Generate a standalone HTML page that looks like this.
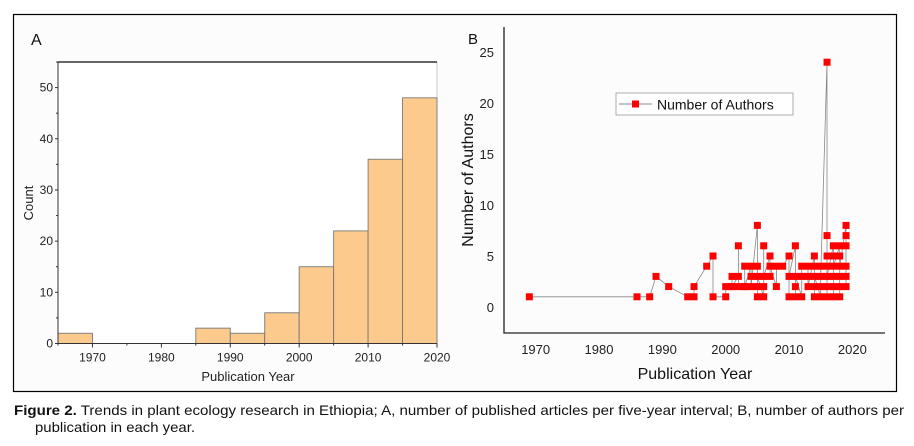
<!DOCTYPE html>
<html><head><meta charset="utf-8">
<style>
html,body{margin:0;padding:0;background:#fff;width:914px;height:446px;overflow:hidden;font-family:"Liberation Sans",sans-serif;}
svg{display:block}
</style></head>
<body>
<svg id="fig" width="914" height="446" xmlns="http://www.w3.org/2000/svg">
  <rect x="13.5" y="14.5" width="883" height="377" fill="#fcfcfc" stroke="#000" stroke-width="1.2"/>
  <g id="panelA"></g>
  <g id="panelB"></g>
  <text x="14" y="415" font-size="14" fill="#111" textLength="890" lengthAdjust="spacingAndGlyphs"><tspan font-weight="bold">Figure 2.</tspan> Trends in plant ecology research in Ethiopia; A, number of published articles per five-year interval; B, number of authors per</text>
  <text x="35" y="432" font-size="14" fill="#111" textLength="160" lengthAdjust="spacingAndGlyphs">publication in each year.</text>
</svg>
<script>
// Panel A data
const binStarts = [1965,1970,1975,1980,1985,1990,1995,2000,2005,2010,2015];
const binCounts = [2,0,0,0,3,2,6,15,22,36,48];
const aXTicks = [1970,1980,1990,2000,2010,2020];
const aYTicks = [0,10,20,30,40,50];

// Panel B data
const bYears = [1969,1986,1988,1989,1991,1994,1995,1995,1997,1998,1998,2000,2000,
2001,2001,2001,2002,2002,2002,2003,2003,2003,2004,2004,2004,
2005,2005,2005,2005,2005,2006,2006,2006,2006,2007,2007,2007,2008,2008,2009,
2010,2010,2010,2011,2011,2011,2011,2012,2012,2012,2013,2013,2013,
2014,2014,2014,2014,2014,2015,2015,2015,2015,
2016,2016,2016,2016,2016,2016,2016,2017,2017,2017,2017,2017,2017,
2018,2018,2018,2018,2018,2018,2019,2019,2019,2019,2019,2019];
const bAuthors = [1,1,1,3,2,1,1,2,4,5,1,1,2,
2,3,2,3,6,2,2,4,2,4,3,2,
8,1,2,4,3,1,6,2,3,5,3,4,2,4,4,
5,1,3,6,2,1,3,1,3,4,4,3,2,
5,1,4,2,3,1,4,2,3,
24,7,1,5,2,4,3,6,1,5,3,2,4,
6,5,1,2,3,4,8,7,6,2,3,4];
const bXTicks = [1970,1980,1990,2000,2010,2020];
const bYTicks = [0,5,10,15,20,25];

const NS="http://www.w3.org/2000/svg";
function mk(tag,attrs,parent,txt){const e=document.createElementNS(NS,tag);for(const k in attrs)e.setAttribute(k,attrs[k]);if(txt!==undefined)e.textContent=txt;parent.appendChild(e);return e;}

// ---- Panel A ----
const A=document.getElementById('panelA');
const axL=58,axR=437,axT=62,axB=343.5;
const ax=v=>axL+(v-1965)/(2020-1965)*(axR-axL);
const ay=v=>axB-v/55*(axB-axT);
let t=mk('text',{x:31,y:45,'font-size':16,fill:'#111'},A,'A');


let r=mk('rect',{x:axL,y:axT,width:axR-axL,height:axB-axT,fill:'#fff',stroke:'#bbb','stroke-width':0.8},A);


binStarts.forEach((s,i)=>{
  if(binCounts[i]<=0)return;
  const b=mk('rect',{x:ax(s),y:ay(binCounts[i]),width:ax(s+5)-ax(s),height:axB-ay(binCounts[i]),fill:'#fdca8e',stroke:'#777','stroke-width':0.9},A);
  
  
});
let l=mk('line',{x1:axL,y1:axT,x2:axR,y2:axT,stroke:'#333','stroke-width':1.6},A);


l=mk('line',{x1:axL,y1:axT,x2:axL,y2:axB,stroke:'#333','stroke-width':1},A);


l=mk('line',{x1:axL,y1:axB,x2:axR,y2:axB,stroke:'#333','stroke-width':1},A);


aYTicks.forEach(v=>{
  mk('line',{x1:axL-3,y1:ay(v),x2:axL,y2:ay(v),stroke:'#333'},A);
  mk('line',{x1:axL-2,y1:ay(v+5),x2:axL,y2:ay(v+5),stroke:'#333'},A);
  const tt=mk('text',{x:axL-5,y:ay(v)+4,'font-size':12,'text-anchor':'end',fill:'#222'},A,String(v));
  
  
});
aXTicks.forEach(v=>{
  mk('line',{x1:ax(v),y1:axB,x2:ax(v),y2:axB+4,stroke:'#333'},A);
  if(v-5>=1965)mk('line',{x1:ax(v-5),y1:axB,x2:ax(v-5),y2:axB+2,stroke:'#333'},A);
  const tt=mk('text',{x:ax(v),y:axB+18,'font-size':12,'text-anchor':'middle',fill:'#222'},A,String(v));
  
  
});
t=mk('text',{x:248,y:381,'font-size':13,'text-anchor':'middle',fill:'#222'},A,'Publication Year');


t=mk('text',{x:0,y:0,'font-size':13,'text-anchor':'middle',fill:'#222',transform:'translate(33,203) rotate(-90)'},A,'Count');



// ---- Panel B ----
const B=document.getElementById('panelB');
const bL=504,bR=885,bT=27,bB=333;
const bx=v=>bL+(v-1965)/(2025.15-1965)*(bR-bL);
const by=v=>307-v*(307-52)/25;
t=mk('text',{x:468,y:44,'font-size':15,fill:'#111'},B,'B');


l=mk('polyline',{points:`${bL},${bT} ${bL},${bB} ${bR},${bB}`,fill:'none',stroke:'#222','stroke-width':1.3},B);


bYTicks.forEach(v=>{
  const tt=mk('text',{x:494,y:by(v)+5,'font-size':13,'text-anchor':'end',fill:'#222'},B,String(v));
  
  
});
bXTicks.forEach(v=>{
  const tt=mk('text',{x:bx(v),y:354,'font-size':13,'text-anchor':'middle',fill:'#222'},B,String(v));
  
  
});
t=mk('text',{x:695,y:379,'font-size':16,'text-anchor':'middle',fill:'#111'},B,'Publication Year');


t=mk('text',{x:0,y:0,'font-size':16,'text-anchor':'middle',fill:'#111',transform:'translate(473,180) rotate(-90)'},B,'Number of Authors');


const pts=bYears.map((y,i)=>bx(y).toFixed(1)+','+by(bAuthors[i]).toFixed(1)).join(' ');
l=mk('polyline',{points:pts,fill:'none',stroke:'#888','stroke-width':0.8},B);


bYears.forEach((y,i)=>{
  const m=mk('rect',{x:bx(y)-3.5,y:by(bAuthors[i])-3.5,width:7,height:7,fill:'#f00'},B);
  
  
});
// legend
const lg=mk('g',{},B);


mk('rect',{x:616,y:93,width:177,height:22,fill:'#fff',stroke:'#999','stroke-width':0.8},lg);
mk('line',{x1:619,y1:104,x2:652,y2:104,stroke:'#888'},lg);
mk('rect',{x:632,y:100.5,width:7,height:7,fill:'#f00'},lg);
t=mk('text',{x:657,y:109.5,'font-size':14,fill:'#111'},lg,'Number of Authors');


</script>
</body></html>
